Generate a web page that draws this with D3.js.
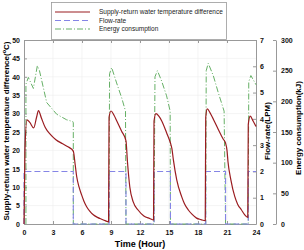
<!DOCTYPE html>
<html>
<head>
<meta charset="utf-8">
<script src="https://cdn.jsdelivr.net/npm/d3@7"></script>
<style>
  body { margin: 0; background: #fff; }
  svg { display: block; font-family: "Liberation Sans", Arial, sans-serif; }
  .tick text { font-weight: bold; font-size: 7px; fill: #111; }
  .axis path, .axis line { stroke: #999; }
</style>
</head>
<body>
<div id="chart"></div>
<script>
// ---- data ----
const tempTime = [0, 0.1, 0.3, 0.6, 1.0, 1.3, 1.5, 1.8, 2.2, 2.7, 3.3, 4.0, 4.6, 5.1, 5.3, 5.45, 5.7, 5.96, 6.2, 6.48, 6.8, 7.17, 7.6, 8.03, 8.4, 8.75,
  8.8, 9.0, 9.3, 9.6, 10.1, 10.55, 10.7, 10.95, 11.3, 11.8, 12.4, 13.0, 13.4,
  13.45, 13.65, 13.95, 14.25, 14.75, 15.15, 15.3, 15.45, 15.8, 16.3, 16.6, 17.0, 17.4, 17.85, 18.3, 18.75,
  18.8, 18.96, 19.25, 19.6, 20.1, 20.6, 20.85, 21.0, 21.1, 21.4, 21.8, 22.1, 22.5, 22.8, 23.15,
  23.2, 23.4, 23.7, 24.0];
const tempDiff = [0, 20, 28.3, 27.6, 26.1, 29, 30.8, 28.8, 26.2, 24.4, 22.9, 21.8, 20.9, 19.8, 16, 12.9, 10, 7.9, 6.2, 4.7, 3.5, 2.5, 1.8, 1.3, 0.9, 0.6,
  29, 30.7, 29.6, 28, 25.2, 22.6, 17, 10, 6, 3.8, 2.2, 1.5, 1.1,
  28, 30, 29.3, 28, 24.8, 22, 20.5, 17.5, 12, 7.5, 5.5, 3.8, 2.6, 1.6, 1.2, 0.9,
  29, 31.3, 30.2, 28.4, 25.7, 23.1, 22, 20, 17, 12, 7.5, 5.4, 3.8, 2.6, 1.8,
  27, 29.3, 28, 26.5];

const flowTime = [0, 0, 5.1, 5.1, 8.8, 8.8, 10.55, 10.55, 13.45, 13.45, 15.15, 15.15, 18.8, 18.8, 20.85, 20.85, 23.2, 23.2, 24];
const flowRate = [0, 2, 2, 0, 0, 2, 2, 0, 0, 2, 2, 0, 0, 2, 2, 0, 0, 2, 2];

const energyTime = [0.2, 0.2, 0.45, 0.97, 1.38, 1.6, 2.35, 3.38, 4.4, 5.05, 5.1, 5.1,
  8.8, 8.85, 9.07, 9.58, 10.1, 10.5, 10.55,
  13.45, 13.55, 13.8, 14.24, 14.75, 15.12, 15.15,
  18.8, 18.85, 19.06, 19.58, 20.1, 20.7, 20.85,
  23.2, 23.25, 23.47, 23.9, 24.0];
const energyKJ = [0, 228, 239, 221, 258, 250, 198, 179, 170, 167, 165, 0,
  0, 245, 255, 230, 206, 184, 0,
  0, 240, 250, 233, 209, 184, 0,
  0, 250, 262, 242, 214, 184, 0,
  0, 232, 242, 230, 227];

const timeTicks = [0, 3, 6, 9, 12, 15, 18, 21, 24];
const tempTicks = [0, 5, 10, 15, 20, 25, 30, 35, 40, 45, 50];
const flowTicks = [0, 1, 2, 3, 4, 5, 6, 7];
const energyTicks = [0, 50, 100, 150, 200, 250, 300];
const seriesNames = ["Supply-return water temperature difference", "Flow-rate", "Energy consumption"];

// ---- setup ----
const width = 304, height = 250;
const svg = d3.select("#chart").append("svg")
  .attr("width", width).attr("height", height);

const x = d3.scaleLinear([0, 24], [24, 256]);
const yT = d3.scaleLinear([0, 50], [224, 40]);
const yF = d3.scaleLinear([0, 7], [224, 40]);
const yE = d3.scaleLinear([0, 300], [224, 40]);

const red = "#9a1c20", blue = "#8585e6", green = "#66b066";

// grid
const grid = svg.append("g").attr("stroke", "#ececec").attr("stroke-width", 0.6);
grid.selectAll(".gx").data(timeTicks.slice(1, -1)).join("line")
  .attr("x1", d => x(d)).attr("x2", d => x(d)).attr("y1", yT(0)).attr("y2", yT(50));
grid.selectAll(".gy").data(tempTicks.slice(1, -1)).join("line")
  .attr("x1", x(0)).attr("x2", x(24)).attr("y1", d => yT(d)).attr("y2", d => yT(d));

// axes
svg.append("g").attr("class", "axis").attr("transform", `translate(0,${yT(0)})`)
  .call(d3.axisBottom(x).tickValues(timeTicks).tickSizeInner(-3).tickSizeOuter(0).tickPadding(6));
svg.append("g").attr("class", "axis").attr("transform", `translate(0,${yT(50)})`)
  .call(d3.axisTop(x).tickValues(timeTicks).tickSizeInner(-3).tickSizeOuter(0).tickFormat(""));
svg.append("g").attr("class", "axis").attr("transform", `translate(${x(0)},0)`)
  .call(d3.axisLeft(yT).tickValues(tempTicks).tickSizeInner(-3).tickSizeOuter(0).tickPadding(4));
svg.append("g").attr("class", "axis").attr("transform", `translate(${x(24)},0)`)
  .call(d3.axisRight(yF).tickValues(flowTicks).tickFormat(d3.format("d"))
    .tickSizeInner(-3).tickSizeOuter(0).tickPadding(4));
svg.append("g").attr("class", "axis").attr("transform", `translate(276,0)`)
  .call(d3.axisRight(yE).tickValues(energyTicks).tickSizeInner(-3).tickSizeOuter(0).tickPadding(5));

// series
const line = (xs, ys, yScale, curve) => d3.line()
  .curve(curve || d3.curveLinear)
  .x((d, i) => x(xs[i])).y((d, i) => yScale(ys[i]))(ys);

svg.append("path").attr("d", line(energyTime, energyKJ, yE))
  .attr("fill", "none").attr("stroke", green).attr("stroke-width", 1)
  .attr("stroke-dasharray", "6,2,1,2");
svg.append("path").attr("d", line(flowTime, flowRate, yF))
  .attr("fill", "none").attr("stroke", blue).attr("stroke-width", 1.1)
  .attr("stroke-dasharray", "6,3");
svg.append("path").attr("d", line(tempTime, tempDiff, yT, d3.curveMonotoneX))
  .attr("fill", "none").attr("stroke", red).attr("stroke-width", 1.2);

// legend
const leg = svg.append("g");
leg.append("rect").attr("x", 51.5).attr("y", 2.5).attr("width", 175).attr("height", 37)
  .attr("fill", "#fff").attr("stroke", "#999").attr("stroke-width", 0.8);
const legStyles = [
  { color: red, dash: null, w: 1.2 },
  { color: blue, dash: "6,3", w: 1.1 },
  { color: green, dash: "6,2,1,2", w: 1 }
];
seriesNames.forEach((name, i) => {
  const yy = 12 + i * 8.5;
  leg.append("line").attr("x1", 55).attr("x2", 90).attr("y1", yy).attr("y2", yy)
    .attr("stroke", legStyles[i].color).attr("stroke-width", legStyles[i].w)
    .attr("stroke-dasharray", legStyles[i].dash);
  leg.append("text").attr("x", 99).attr("y", yy + 2.3)
    .attr("font-size", 6.5).attr("fill", "#222").text(name);
});

// axis titles
const t1 = svg.append("text")
  .attr("transform", "translate(9,131) rotate(-90)")
  .attr("text-anchor", "middle").attr("font-size", 8).attr("font-weight", "bold");
t1.append("tspan").text("Supply-return water temperature difference(");
t1.append("tspan").attr("dy", -3).attr("font-size", 5.5).text("o");
t1.append("tspan").attr("dy", 3).text("C)");

svg.append("text")
  .attr("transform", "translate(270,131) rotate(-90)")
  .attr("text-anchor", "middle").attr("font-size", 8).attr("font-weight", "bold")
  .text("Flow-rate(LPM)");

svg.append("text")
  .attr("transform", "translate(301,128) rotate(-90)")
  .attr("text-anchor", "middle").attr("font-size", 8).attr("font-weight", "bold")
  .text("Energy consumption(kJ)");

svg.append("text")
  .attr("x", 140).attr("y", 247)
  .attr("text-anchor", "middle").attr("font-size", 9).attr("font-weight", "bold")
  .text("Time (Hour)");
</script>
</body>
</html>
